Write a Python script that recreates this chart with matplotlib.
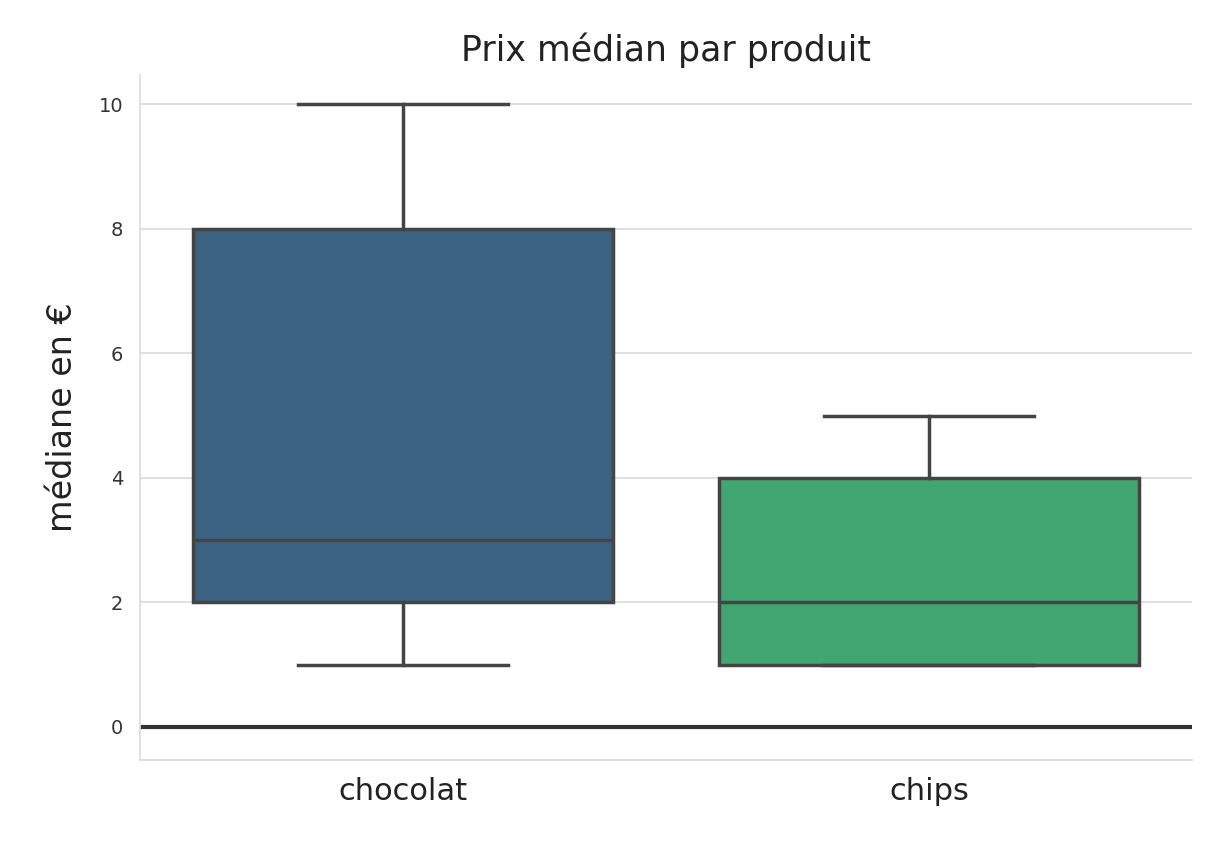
import matplotlib
matplotlib.use("Agg")
import matplotlib.pyplot as plt

categories = ["chocolat", "chips"]
whislo = [1, 1]
q1 = [2, 1]
med = [3, 2]
q3 = [8, 4]
whishi = [10, 5]
colors = ["#3b6381", "#42a673"]

fig = plt.figure(figsize=(12.1, 8.64), dpi=100)
ax = fig.add_axes([140/1210, 1-760/864, (1192-140)/1210, (760-75)/864])
ax.set_axisbelow(True)
ax.grid(axis="y", color="#dddddd", linewidth=1.3)
stats = [dict(label=c, whislo=a, q1=b, med=m, q3=d, whishi=e, fliers=[])
         for c, a, b, m, d, e in zip(categories, whislo, q1, med, q3, whishi)]
line = dict(color="#444444", linewidth=2.5)
bp = ax.bxp(stats, positions=[0, 1], widths=0.8, patch_artist=True, showfliers=False,
            boxprops=dict(edgecolor="#444444", linewidth=2.5),
            medianprops=line, whiskerprops=line, capprops=line)
for p, c in zip(bp["boxes"], colors):
    p.set_facecolor(c)
ax.axhline(0, color="#333333", linewidth=3)
ax.set_xlim(-0.5, 1.5)
ax.set_ylim(-0.53, 10.47)
ax.set_yticks([0, 2, 4, 6, 8, 10])
ax.set_xticks([0, 1])
ax.set_xticklabels(categories, fontsize=22, color="#222222")
ax.tick_params(axis="y", labelsize=14, labelcolor="#333333", length=0, pad=12)
ax.tick_params(axis="x", length=0, pad=12)
for s in ["top", "right"]:
    ax.spines[s].set_visible(False)
for s in ["left", "bottom"]:
    ax.spines[s].set_color("#dddddd")
    ax.spines[s].set_linewidth(1.3)
ax.set_ylabel("médiane en €", fontsize=24, color="#222222", labelpad=14)
ax.set_title("Prix médian par produit", fontsize=25, color="#222222", pad=10)
fig.savefig("out.png", dpi=100)
